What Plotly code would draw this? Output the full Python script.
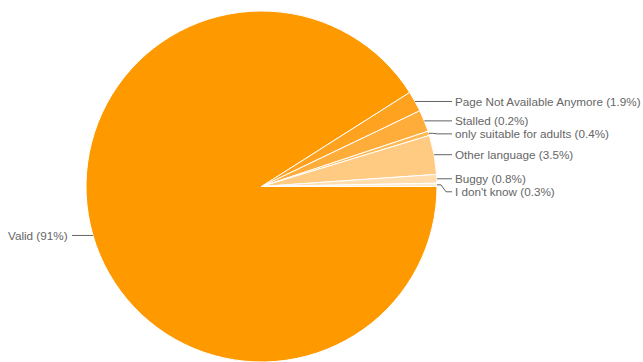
import math
import plotly.graph_objects as go

# ---- data ----
categories = ["Valid", "Page Not Available Anymore", "Stalled", "only suitable for adults",
              "Other language", "Buggy", "I don't know"]
values = [91.0, 1.9, 2.0, 0.4, 3.6, 0.8, 0.3]          # slice sizes as drawn
pct_labels = ["91%", "1.9%", "0.2%", "0.4%", "3.5%", "0.8%", "0.3%"]  # label text as printed
colors = ["#FF9900", "#FFA220", "#FFAD3A", "#FFB953", "#FFCA82", "#FFDDAE", "#FFEBD2"]

W, H = 643, 362
CX, CY, R = 261.5, 186.5, 175.5

fig = go.Figure()
fig.add_trace(go.Pie(
    labels=categories, values=values, sort=False,
    direction="clockwise", rotation=90,
    marker=dict(colors=colors, line=dict(color="#FFFFFF", width=1)),
    textinfo="none", hoverinfo="label+percent", showlegend=False,
    domain=dict(x=[(CX - R) / W, (CX + R) / W],
                y=[max(0, 1 - (CY + R) / H), 1 - (CY - R) / H]),
))

def px(x):
    return x / W

def py(y):
    return 1 - y / H

total = sum(values)
cum = 0.0
right_items, left_items = [], []
for name, v, p in zip(categories, values, pct_labels):
    a0 = cum / total * 2 * math.pi
    cum += v
    a1 = cum / total * 2 * math.pi
    am = (a0 + a1) / 2
    ex = CX + R * math.cos(am)
    ey = CY + R * math.sin(am)
    item = dict(text=f"{name} ({p})", ex=ex, ey=ey)
    (right_items if ex > CX else left_items).append(item)

# right side labels: top to bottom with minimum spacing
right_items.sort(key=lambda d: d["ey"])
prev = -1e9
for it in right_items:
    ly = max(it["ey"], prev + 13)
    it["ly"] = ly
    prev = ly

shapes, annotations = [], []
LINE = "#636363"
TXT = "#666666"
FS = 11.7
for it in right_items:
    ex, ey, ly = it["ex"], it["ey"], it["ly"]
    if abs(ly - ey) < 0.5:
        path = f"M{px(ex)},{py(ey)} L{px(452)},{py(ly)}"
    else:
        path = (f"M{px(ex)},{py(ey)} L{px(ex + 4)},{py(ey)} "
                f"L{px(ex + 9)},{py(ly)} L{px(452)},{py(ly)}")
    shapes.append(dict(type="path", xref="paper", yref="paper", path=path,
                       line=dict(color=LINE, width=1)))
    annotations.append(dict(x=px(453), y=py(ly), xref="paper", yref="paper",
                            text=it["text"], showarrow=False, xanchor="left",
                            yanchor="middle", font=dict(size=FS, color=TXT)))

for it in left_items:
    ex, ey = it["ex"], it["ey"]
    shapes.append(dict(type="path", xref="paper", yref="paper",
                       path=f"M{px(ex)},{py(ey)} L{px(72)},{py(ey)}",
                       line=dict(color=LINE, width=1)))
    annotations.append(dict(x=px(70), y=py(ey), xref="paper", yref="paper",
                            text=it["text"], showarrow=False, xanchor="right",
                            yanchor="middle", font=dict(size=FS, color=TXT)))

fig.update_layout(
    width=W, height=H,
    margin=dict(l=0, r=0, t=0, b=0),
    paper_bgcolor="#FFFFFF", plot_bgcolor="#FFFFFF",
    font=dict(family="Liberation Sans, Arial, sans-serif", size=FS, color=TXT),
    shapes=shapes, annotations=annotations,
)

fig.write_html("out.html")
